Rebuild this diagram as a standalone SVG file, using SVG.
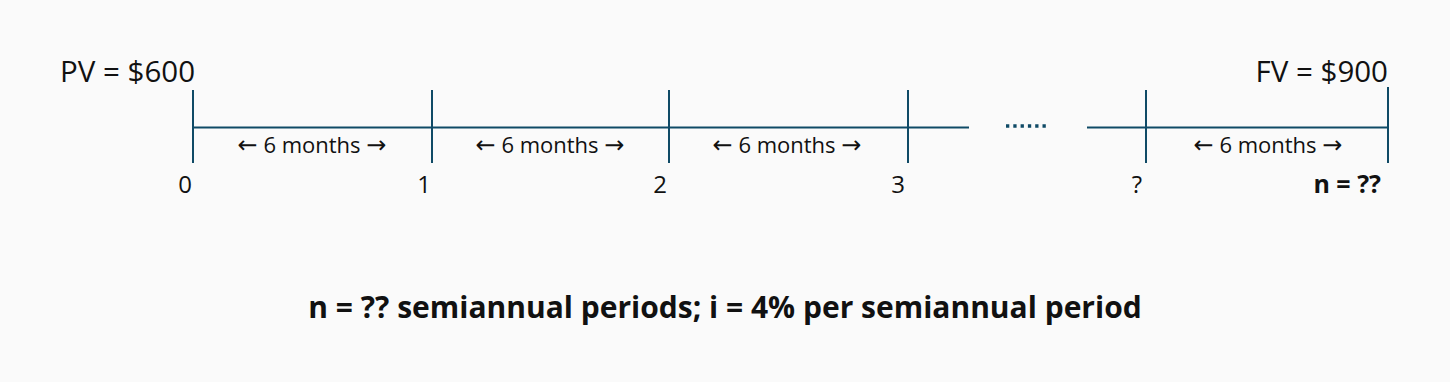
<svg xmlns="http://www.w3.org/2000/svg" width="1450" height="382" viewBox="0 0 1450 382">
<style>
.ln{stroke:#0f4a66;stroke-width:2;fill:none}
.t{font-family:"Open Sans","Noto Sans",sans-serif;fill:#111}
.lab{font-size:29.5px}
.num{font-size:24px;text-anchor:middle}
.per{font-size:22px;text-anchor:middle}
.ar{font-family:"DejaVu Sans",sans-serif;font-size:24px}
.b{font-weight:bold}
</style>
<rect width="1450" height="382" fill="#fafafa"/>
<g id="connectors">
<line class="ln" x1="193" y1="127.5" x2="969" y2="127.5"/>
<line class="ln" x1="1087" y1="127.5" x2="1388" y2="127.5"/>
<line x1="1006" y1="126" x2="1047" y2="126" stroke="#0f4a66" stroke-width="3.5" stroke-dasharray="3.3 4"/>
</g>
<g id="tick0"><line class="ln" x1="193" y1="90" x2="193" y2="163"/><text class="t num" x="185" y="193">0</text></g>
<g id="tick1"><line class="ln" x1="432" y1="90" x2="432" y2="163"/><text class="t num" x="424" y="193">1</text></g>
<g id="tick2"><line class="ln" x1="669" y1="90" x2="669" y2="163"/><text class="t num" x="660" y="193">2</text></g>
<g id="tick3"><line class="ln" x1="908" y1="90" x2="908" y2="163"/><text class="t num" x="898" y="193">3</text></g>
<g id="tickq"><line class="ln" x1="1146" y1="90" x2="1146" y2="163"/><text class="t num" x="1137" y="193">?</text></g>
<g id="tickn"><line class="ln" x1="1388" y1="87" x2="1388" y2="163"/><text class="t b" x="1381" y="193" font-size="25" text-anchor="end">n = ??</text></g>
<g id="pv"><text class="t lab" x="60" y="82">PV = $600</text></g>
<g id="fv"><text class="t lab" x="1388" y="82" text-anchor="end">FV = $900</text></g>
<g id="p1"><text class="t per" x="312" y="153"><tspan class="ar">←</tspan> 6 months <tspan class="ar">→</tspan></text></g>
<g id="p2"><text class="t per" x="550" y="153"><tspan class="ar">←</tspan> 6 months <tspan class="ar">→</tspan></text></g>
<g id="p3"><text class="t per" x="787" y="153"><tspan class="ar">←</tspan> 6 months <tspan class="ar">→</tspan></text></g>
<g id="p4"><text class="t per" x="1268" y="153"><tspan class="ar">←</tspan> 6 months <tspan class="ar">→</tspan></text></g>
<g id="caption"><text class="t b" x="725" y="318" font-size="30" text-anchor="middle">n = ?? semiannual periods; i = 4% per semiannual period</text></g>
</svg>
